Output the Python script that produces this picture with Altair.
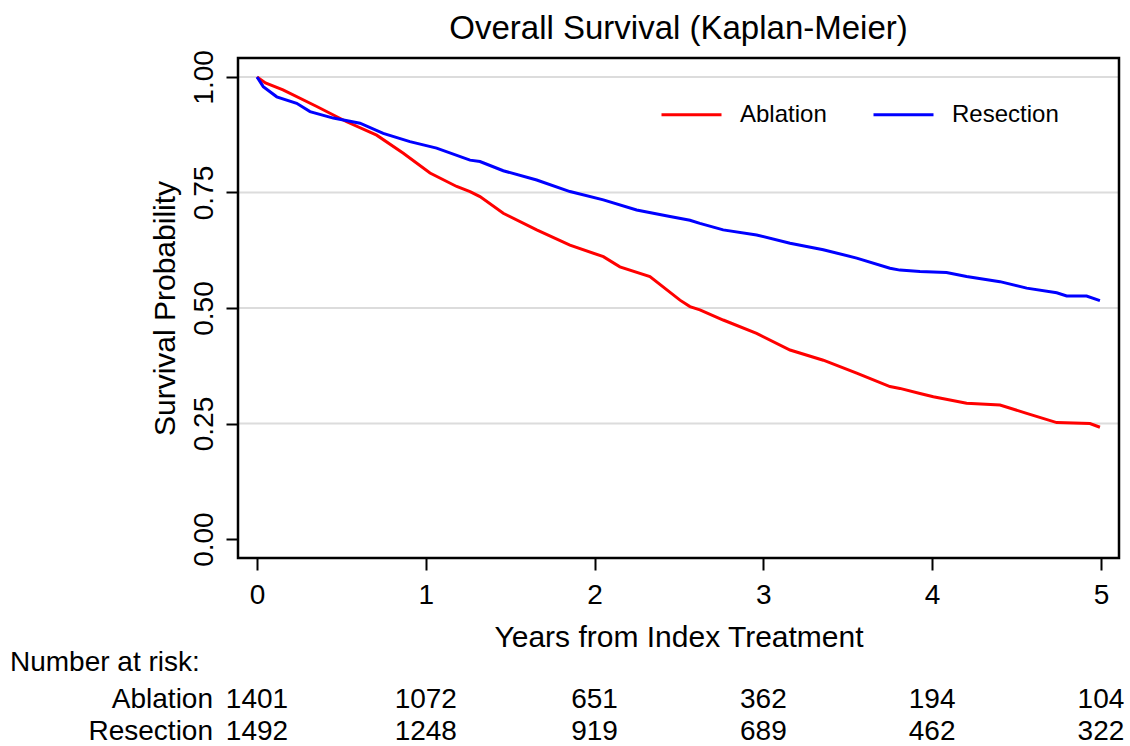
import altair as alt
import pandas as pd

# ---- data ----
abl_years = [0.0, 0.05, 0.154, 0.354, 0.531, 0.709, 0.867, 1.025, 1.183, 1.262, 1.321, 1.459, 1.657,
             1.854, 2.052, 2.150, 2.328, 2.506, 2.565, 2.624, 2.762, 2.960, 3.158, 3.355, 3.553,
             3.750, 3.809, 3.928, 4.007, 4.204, 4.402, 4.560, 4.738, 4.935, 4.994]
abl_surv = [1.0, 0.987, 0.972, 0.936, 0.903, 0.874, 0.835, 0.792, 0.763, 0.752, 0.741, 0.705, 0.669,
            0.636, 0.611, 0.589, 0.568, 0.517, 0.503, 0.496, 0.474, 0.445, 0.409, 0.387, 0.359,
            0.330, 0.326, 0.315, 0.308, 0.294, 0.290, 0.272, 0.252, 0.250, 0.242]

res_years = [0.0, 0.037, 0.117, 0.235, 0.314, 0.452, 0.610, 0.748, 0.906, 1.064, 1.262, 1.321, 1.459,
             1.657, 1.854, 2.052, 2.249, 2.447, 2.565, 2.624, 2.762, 2.960, 3.158, 3.355, 3.553,
             3.750, 3.809, 3.928, 4.085, 4.204, 4.402, 4.560, 4.738, 4.797, 4.915, 4.994]
res_surv = [1.0, 0.979, 0.957, 0.943, 0.925, 0.911, 0.900, 0.878, 0.860, 0.846, 0.820, 0.817, 0.797,
            0.777, 0.752, 0.734, 0.712, 0.698, 0.690, 0.683, 0.669, 0.658, 0.640, 0.626, 0.608,
            0.586, 0.582, 0.579, 0.577, 0.568, 0.557, 0.543, 0.533, 0.526, 0.526, 0.516]

groups = ["Ablation", "Resection"]
colors = ["#FF0000", "#0000FF"]

risk_years = [0, 1, 2, 3, 4, 5]
risk_ablation = [1401, 1072, 651, 362, 194, 104]
risk_resection = [1492, 1248, 919, 689, 462, 322]

x_ticks = [0, 1, 2, 3, 4, 5]
y_ticks = [0.0, 0.25, 0.5, 0.75, 1.0]
grid_vals = [0.25, 0.5, 0.75, 1.0]

FONT = "Liberation Sans"

curves = pd.concat([
    pd.DataFrame({"year": abl_years, "surv": abl_surv, "group": "Ablation"}),
    pd.DataFrame({"year": res_years, "surv": res_surv, "group": "Resection"}),
])
risk_abl_df = pd.DataFrame({"year": risk_years, "n": [str(v) for v in risk_ablation]})
risk_res_df = pd.DataFrame({"year": risk_years, "n": [str(v) for v in risk_resection]})
grid_df = pd.DataFrame({"g": grid_vals})
nar_df = pd.DataFrame({"t": ["Number at risk:"]})
abl_lab_df = pd.DataFrame({"t": ["Ablation"]})
res_lab_df = pd.DataFrame({"t": ["Resection"]})

x_scale = alt.Scale(domain=[-0.1126, 5.107], nice=False, zero=False)
y_scale = alt.Scale(domain=[-0.041, 1.041], nice=False, zero=False)

x_axis = alt.Axis(values=x_ticks, format="d", title="Years from Index Treatment",
                  tickSize=12, tickWidth=2, tickColor="black", domain=False, grid=False,
                  labelFontSize=28, labelFont=FONT, labelColor="black", labelPadding=11,
                  titleFontSize=30, titleFont=FONT, titleFontWeight="normal",
                  titleColor="black", titlePadding=13)
y_axis = alt.Axis(values=y_ticks, format=".2f", title="Survival Probability",
                  tickSize=12, tickWidth=2, tickColor="black", domain=False, grid=False,
                  labelAngle=270, labelFontSize=28, labelFont=FONT, labelColor="black",
                  labelPadding=8, titleFontSize=30, titleFont=FONT,
                  titleFontWeight="normal", titleColor="black", titlePadding=10)

grid = alt.Chart(grid_df).mark_rule(color="#DCDCDC", strokeWidth=2).encode(
    y=alt.Y("g:Q", scale=y_scale, axis=y_axis)
)

lines = alt.Chart(curves).mark_line(strokeWidth=3).encode(
    x=alt.X("year:Q", scale=x_scale, axis=x_axis),
    y=alt.Y("surv:Q", scale=y_scale, axis=y_axis),
    color=alt.Color("group:N", scale=alt.Scale(domain=groups, range=colors),
                    legend=alt.Legend(title=None, orient="none", legendX=422, legendY=25,
                                      direction="horizontal", symbolType="stroke",
                                      symbolSize=3600, symbolStrokeWidth=3,
                                      labelFontSize=24, labelFont=FONT, labelColor="black",
                                      labelOffset=17, columnPadding=40)),
    order="year:Q",
)

frame = alt.Chart(nar_df).mark_rect(fill=None, stroke="black", strokeWidth=2.5).encode(
    x=alt.value(0), x2=alt.value(881), y=alt.value(0), y2=alt.value(500)
)

txt = dict(fontSize=28, font=FONT, color="black", baseline="middle")

risk_a = alt.Chart(risk_abl_df).mark_text(align="center", **txt).encode(
    x=alt.X("year:Q", scale=x_scale, axis=x_axis), y=alt.value(642), text="n:N")
risk_r = alt.Chart(risk_res_df).mark_text(align="center", **txt).encode(
    x=alt.X("year:Q", scale=x_scale, axis=x_axis), y=alt.value(674), text="n:N")

nar = alt.Chart(nar_df).mark_text(align="left", **txt).encode(
    x=alt.value(-228), y=alt.value(605), text="t:N")
abl_lab = alt.Chart(abl_lab_df).mark_text(align="right", **txt).encode(
    x=alt.value(-25), y=alt.value(642), text="t:N")
res_lab = alt.Chart(res_lab_df).mark_text(align="right", **txt).encode(
    x=alt.value(-25), y=alt.value(674), text="t:N")

chart = alt.layer(grid, lines, frame, risk_a, risk_r, nar, abl_lab, res_lab).properties(
    width=881, height=500,
    autosize=alt.AutoSizeParams(type="none"),
    padding={"left": 238, "top": 58, "right": 11, "bottom": 188},
    title=alt.TitleParams("Overall Survival (Kaplan-Meier)", fontSize=33, font=FONT,
                          fontWeight="normal", color="black", anchor="middle", offset=4),
).configure(background="white").configure_view(stroke=None)

chart.save("out.html", embed_options={"renderer": "svg", "actions": False})
